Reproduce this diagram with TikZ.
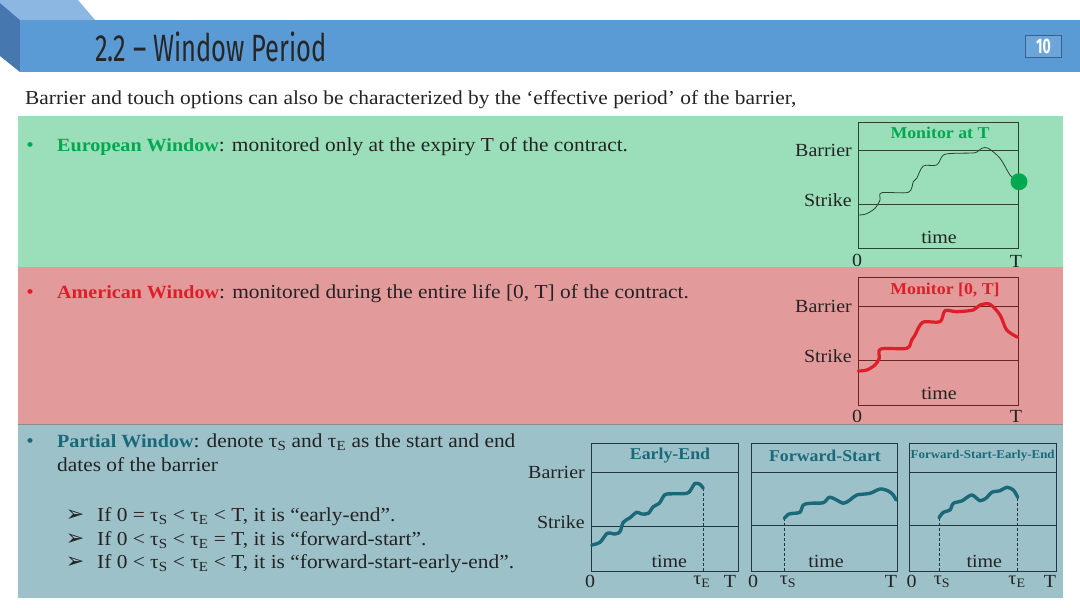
\documentclass[tikz,border=0pt]{standalone}
\usepackage{fontspec}
\setmainfont[FakeStretch=1.08]{Liberation Serif}
\newfontfamily\titlefont[FakeStretch=0.67]{Fira Sans}
\newfontfamily\symfont{DejaVu Sans}
\definecolor{hdrbar}{RGB}{91,155,213}
\definecolor{hdrtop}{RGB}{141,183,227}
\definecolor{hdrside}{RGB}{70,120,175}
\definecolor{greenband}{RGB}{154,223,185}
\definecolor{redband}{RGB}{227,154,154}
\definecolor{blueband}{RGB}{157,193,201}
\definecolor{greentxt}{RGB}{0,168,80}
\definecolor{redtxt}{RGB}{222,30,40}
\definecolor{tealtxt}{RGB}{25,105,120}
\definecolor{bodytxt}{RGB}{35,35,35}
\definecolor{gline}{RGB}{40,70,50}
\definecolor{rline}{RGB}{110,35,35}
\definecolor{bline}{RGB}{30,55,65}
\newcommand\tS{τ\textsubscript{S}}
\newcommand\tE{τ\textsubscript{E}}
\newcommand\hd[2]{\textcolor{#1}{\bfseries\fontsize{18.6}{23}\selectfont #2}}
\begin{document}
\begin{tikzpicture}[x=1pt,y=-1pt,
  body/.style={font=\fontsize{19.8}{23}\selectfont, text=bodytxt, inner sep=0pt},
  lbl/.style={font=\fontsize{18.5}{20}\selectfont, text=bodytxt, inner sep=0pt},
  ctitle/.style={font=\bfseries\fontsize{16.5}{18}\selectfont, inner sep=0pt},
  gcurve/.style={gline, line width=0.8pt, line join=round},
  rcurve/.style={redtxt, line width=3.2pt, line join=round, line cap=round},
  bcurve/.style={tealtxt, line width=3.4pt, line join=round, line cap=round},
  vdash/.style={bline, dashed, line width=0.7pt, dash pattern=on 3pt off 2pt}]
\useasboundingbox (0,0) rectangle (1080,608);
\fill[white] (0,0) rectangle (1080,608);
% header
\fill[hdrtop] (0,0) -- (78,0) -- (95,20) -- (20,20) -- (0,3) -- cycle;
\fill[hdrside] (0,3) -- (20,20) -- (20,72) -- (0,56) -- cycle;
\fill[hdrbar] (20,20) rectangle (1080,72);
\node[anchor=west, inner sep=0pt, font=\titlefont\fontsize{38}{40}\selectfont, text=black!85] (title) at (95,47) {2.2 – Window Period};
\node[draw=hdrside!80!black, line width=1.5pt, fill=hdrbar!90!white, minimum width=36pt, minimum height=22pt, inner sep=0pt,
  font=\titlefont\bfseries\fontsize{21}{21}\selectfont, text=white] (pg) at (1043.5,46.5) {10};
% intro
\node[body, anchor=base west] (intro) at (25,104) {Barrier and touch options can also be characterized by the ‘effective period’ of the barrier,};
% bands
\fill[greenband] (18,116) rectangle (1063,267);
\fill[redband] (18,267) rectangle (1063,424);
\fill[blueband] (18,424) rectangle (1063,598);
\draw[black!45, line width=1pt] (18,424) -- (1063,424);
% European
\node[body, anchor=base, text=greentxt] (b1) at (30,151) {•};
\node[body, anchor=base west] (t1) at (57,151) {\hd{greentxt}{European Window}: monitored only at the expiry T of the contract.};
% American
\node[body, anchor=base, text=redtxt] (b2) at (30,298) {•};
\node[body, anchor=base west] (t2) at (57,298) {\hd{redtxt}{American Window}: monitored during the entire life [0, T] of the contract.};
% Partial
\node[body, anchor=base, text=tealtxt] (b3) at (30,447) {•};
\node[body, anchor=base west] (t3) at (57,447) {\hd{tealtxt}{Partial Window}: denote \tS{} and \tE{} as the start and end};
\node[body, anchor=base west] (t3b) at (57,471) {dates of the barrier};
\node[body, anchor=base west] (s1) at (97,521) {If 0 = \tS{} < \tE{} < T, it is “early-end”.};
\node[body, anchor=base west] (s2) at (97,545) {If 0 < \tS{} < \tE{} = T, it is “forward-start”.};
\node[body, anchor=base west] (s3) at (97,568) {If 0 < \tS{} < \tE{} < T, it is “forward-start-early-end”.};
\foreach \n/\y in {a1/521,a2/545,a3/568}
  \node[body, anchor=base, font=\symfont\fontsize{22}{22}\selectfont] (\n) at (75,\y) {➢};
% ---- chart 1 (green)
\draw[gline, line width=0.8pt] (858,122) rectangle (1018,248);
\draw[gline, line width=0.8pt] (858,150) coordinate (g1b) -- (1018,150);
\draw[gline, line width=0.8pt] (858,204.5) coordinate (g1s) -- (1018,204.5);
\node[ctitle, text=greentxt] (g1t) at (940,133) {Monitor at T};
\node[lbl, anchor=east] (g1bl) at (852,150) {Barrier};
\node[lbl, anchor=east] (g1sl) at (852,200) {Strike};
\node[lbl] (g1time) at (939,237) {time};
\node[lbl] (g1z) at (857,260) {0};
\node[lbl] (g1T) at (1016,261) {T};
\draw[gcurve] plot[smooth, tension=0.5] coordinates {(858.3,215) (866,214) (875,208.3) (880,200) (881.7,192.7) (908.3,192.3) (913.3,181.7) (916.7,178.3) (923.3,166) (936.7,165) (943.3,155) (955,153.3) (975,152.7) (981.7,148.3) (988.3,148.3) (1000,158.3) (1010,175) (1017,181)};
\fill[greentxt] (1019,181.7) circle (8.5pt) node (g1dot) {};
% ---- chart 2 (red)
\draw[rline, line width=0.8pt] (858,277.5) rectangle (1018,405);
\draw[rline, line width=0.8pt] (858,306.7) -- (1018,306.7);
\draw[rline, line width=0.8pt] (858,360.7) -- (1018,360.7);
\node[ctitle, text=redtxt] (r1t) at (945,290) {Monitor [0, T]};
\node[lbl, anchor=east] (r1bl) at (852,306) {Barrier};
\node[lbl, anchor=east] (r1sl) at (852,356) {Strike};
\node[lbl] (r1time) at (939,393) {time};
\node[lbl] (r1z) at (857,416.7) {0};
\node[lbl] (r1T) at (1016,416.7) {T};
\draw[rcurve] plot[smooth, tension=0.5] coordinates {(858.3,371) (866.7,370) (875,365) (879.3,358.3) (880.7,349) (906.7,348.3) (911.7,340) (915,335) (922.7,322.3) (940,321.7) (945,310.7) (956.7,311.7) (973.3,310) (980,305) (990,304.3) (1000,315) (1006.7,330) (1017.7,337.3)};
% ---- chart A (early-end)
\draw[bline, line width=0.8pt] (591.7,443.3) rectangle (738.3,571);
\draw[bline, line width=0.8pt] (591.7,472.3) -- (738.3,472.3);
\draw[bline, line width=0.8pt] (591.7,526) -- (738.3,526);
\node[ctitle, text=tealtxt] (at) at (670,455.7) {Early-End};
\node[lbl, anchor=east] (abl) at (585,472.7) {Barrier};
\node[lbl, anchor=east] (asl) at (585,521.7) {Strike};
\node[lbl] (atime) at (669.3,561.5) {time};
\node[lbl] (az) at (590,581.7) {0};
\node[lbl] (atE) at (702,582) {\tE};
\node[lbl] (aT) at (730,581.7) {T};
\draw[vdash] (703.3,488.3) -- (703.3,571);
\draw[bcurve] plot[smooth, tension=0.5] coordinates {(591.7,545) (600,542.3) (607.3,533.3) (615,534) (620,531.7) (623.3,522.3) (630,517.7) (636.7,512.3) (641.7,514) (648.3,513.3) (653.3,506.7) (659.3,503.3) (663.3,496.7) (667,494) (686.7,493.3) (691.7,488.3) (695,483.3) (700,484.3) (703.3,488.3)};
% ---- chart B (forward-start)
\draw[bline, line width=0.8pt] (751.7,443.3) rectangle (897.3,571);
\draw[bline, line width=0.8pt] (751.7,472.3) -- (897.3,472.3);
\draw[bline, line width=0.8pt] (751.7,525.7) -- (897.3,525.7);
\node[ctitle, text=tealtxt] (bt) at (825,455.7) {Forward-Start};
\node[lbl] (btime) at (826,561) {time};
\node[lbl] (bz) at (753,581.7) {0};
\node[lbl] (btS) at (788,582) {\tS};
\node[lbl] (bT) at (891,581.7) {T};
\draw[vdash] (784.3,518.3) -- (784.3,571);
\draw[bcurve] plot[smooth, tension=0.5] coordinates {(784.3,518.3) (788.3,514.3) (793.3,513.3) (800,512.3) (803.3,505) (810,503.3) (823.3,502.7) (829.3,497.3) (836.7,500) (843.3,503.3) (850,500) (856.7,495) (870,493.3) (880,489) (888.3,491) (893.3,495) (896,500)};
% ---- chart C (forward-start-early-end)
\draw[bline, line width=0.8pt] (909.3,443.3) rectangle (1056,571);
\draw[bline, line width=0.8pt] (909.3,472.3) -- (1056,472.3);
\draw[bline, line width=0.8pt] (909.3,525.7) -- (1056,525.7);
\node[ctitle, text=tealtxt, font=\bfseries\fontsize{12}{13}\selectfont] (ct) at (982.7,455.7) {Forward-Start-Early-End};
\node[lbl] (ctime) at (984.3,561) {time};
\node[lbl] (cz) at (911.7,581.7) {0};
\node[lbl] (ctS) at (942,582) {\tS};
\node[lbl] (ctE) at (1017,582) {\tE};
\node[lbl] (cT) at (1050,581.7) {T};
\draw[vdash] (939,517.7) -- (939,571);
\draw[vdash] (1017.7,498.3) -- (1017.7,571);
\draw[bcurve] plot[smooth, tension=0.5] coordinates {(939,517.7) (943.3,512.3) (950,510) (953.3,503.3) (961.7,501) (971.7,495) (980,500.7) (986.7,497.7) (991.7,492.3) (1000,490.7) (1006.7,487.3) (1013.3,490) (1017.7,497.3)};
\end{tikzpicture}
\end{document}
